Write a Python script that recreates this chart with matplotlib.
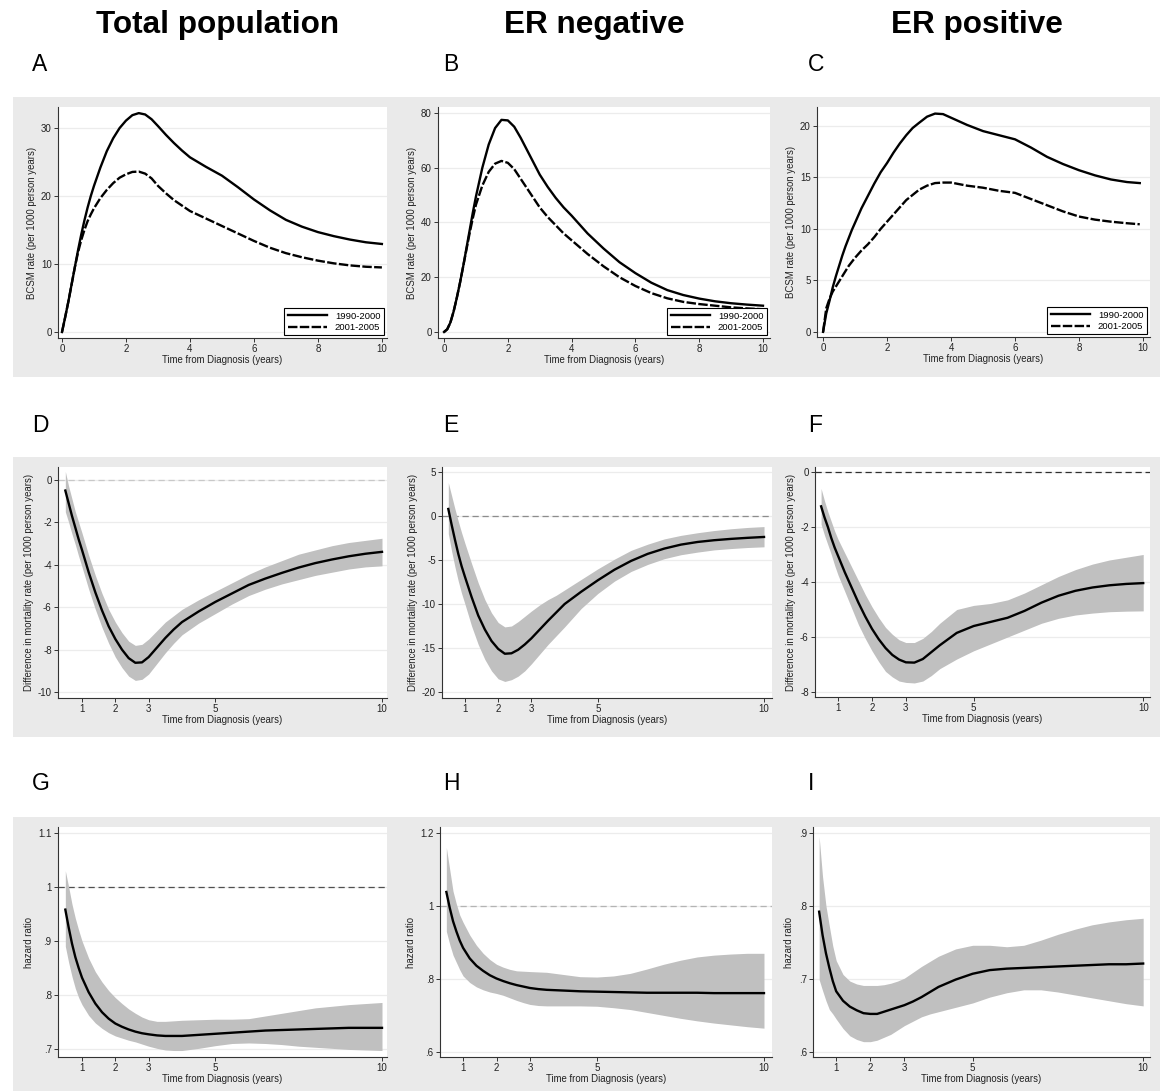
import matplotlib
matplotlib.use("Agg")
import matplotlib.pyplot as plt
from matplotlib.patches import Rectangle

plt.rcParams['font.family'] = ['Liberation Sans', 'DejaVu Sans']

# ---------------- data ----------------
columns = ["Total population", "ER negative", "ER positive"]
panel_letters = ["A", "B", "C", "D", "E", "F", "G", "H", "I"]
series_names = ["1990-2000", "2001-2005"]

t1 = [0, 0.1, 0.2, 0.3, 0.4, 0.5, 0.6, 0.7, 0.8, 0.9, 1.0, 1.2, 1.4, 1.6, 1.8, 2.0, 2.2, 2.4,
      2.6, 2.8, 3.0, 3.25, 3.5, 3.75, 4, 4.5, 5, 5.5, 6, 6.5, 7, 7.5, 8, 8.5, 9, 9.5, 10]
tC = [0, 0.1, 0.2, 0.3, 0.4, 0.5, 0.6, 0.7, 0.8, 0.9, 1.0, 1.2, 1.4, 1.6, 1.8, 2.0, 2.2, 2.4,
      2.6, 2.8, 3.0, 3.25, 3.5, 3.75, 4, 4.5, 5, 5.5, 6, 6.5, 7, 7.5, 8, 8.5, 9, 9.5, 9.9]

A_early = [0, 2.2, 4.5, 7, 9.5, 12, 14.3, 16.4, 18.3, 20.0, 21.5, 24.2, 26.6, 28.5, 30.0, 31.1,
           31.9, 32.2, 32.0, 31.3, 30.3, 29.0, 27.8, 26.7, 25.7, 24.3, 23.0, 21.3, 19.5, 17.9,
           16.5, 15.5, 14.7, 14.1, 13.6, 13.2, 12.95]
A_late = [0, 2.2, 4.5, 7, 9.5, 11.7, 13.5, 15.0, 16.3, 17.3, 18.2, 19.7, 20.9, 21.9, 22.7, 23.2,
          23.55, 23.6, 23.3, 22.6, 21.5, 20.4, 19.4, 18.6, 17.8, 16.7, 15.6, 14.5, 13.4, 12.4,
          11.6, 11.0, 10.5, 10.1, 9.8, 9.6, 9.5]

B_early = [0, 1.0, 3.5, 7.5, 12.5, 18, 24, 30.5, 37, 43.5, 49.5, 60, 68.5, 74.5, 77.5, 77.3,
           75.0, 71.0, 66.5, 62, 57.5, 53, 49, 45.5, 42.5, 36, 30.5, 25.5, 21.5, 18, 15.3,
           13.5, 12.2, 11.2, 10.5, 10.0, 9.6]
B_late = [0, 1.0, 3.5, 7.5, 12.5, 18, 24, 30, 36, 41.5, 46.5, 53.5, 58.5, 61.5, 62.5, 61.8,
          59.5, 56.0, 52.5, 49, 45.5, 42, 39, 36, 33.5, 28.5, 24, 20, 16.8, 14.2, 12.3, 11.0,
          10.2, 9.6, 9.0, 8.6, 8.3]

C_early = [0, 1.8, 3.0, 4.3, 5.4, 6.4, 7.4, 8.3, 9.1, 9.9, 10.6, 12.0, 13.2, 14.4, 15.5, 16.4,
           17.4, 18.3, 19.1, 19.8, 20.3, 20.9, 21.2, 21.15, 20.8, 20.1, 19.5, 19.1, 18.7, 17.9,
           17.0, 16.3, 15.7, 15.2, 14.8, 14.55, 14.45]
C_late = [0, 2.3, 3.2, 3.9, 4.4, 4.9, 5.4, 5.9, 6.4, 6.8, 7.2, 7.9, 8.5, 9.2, 10.0, 10.7,
          11.4, 12.1, 12.8, 13.3, 13.8, 14.2, 14.45, 14.5, 14.5, 14.2, 14.0, 13.7, 13.5, 12.9,
          12.3, 11.7, 11.2, 10.9, 10.7, 10.55, 10.45]

t2 = [0.5, 0.6, 0.7, 0.8, 0.9, 1.0, 1.2, 1.4, 1.6, 1.8, 2.0, 2.2, 2.4, 2.6, 2.8, 3.0, 3.25,
      3.5, 3.75, 4, 4.5, 5, 5.5, 6, 6.5, 7, 7.5, 8, 8.5, 9, 9.5, 10]

D_est = [-0.5, -1.1, -1.7, -2.25, -2.8, -3.3, -4.35, -5.3, -6.15, -6.9, -7.5, -8.0, -8.4,
         -8.62, -8.6, -8.35, -7.9, -7.45, -7.05, -6.7, -6.2, -5.75, -5.35, -4.95, -4.65,
         -4.38, -4.13, -3.92, -3.75, -3.6, -3.48, -3.39]
D_hi = [0.4, -0.3, -0.9, -1.5, -2.0, -2.5, -3.55, -4.5, -5.35, -6.1, -6.7, -7.2, -7.6, -7.8,
        -7.75, -7.5, -7.1, -6.7, -6.4, -6.1, -5.65, -5.25, -4.85, -4.45, -4.1, -3.8, -3.5,
        -3.3, -3.1, -2.95, -2.85, -2.75]
D_lo = [-1.5, -2.0, -2.55, -3.05, -3.6, -4.1, -5.15, -6.1, -6.95, -7.7, -8.35, -8.85, -9.25,
        -9.45, -9.4, -9.15, -8.65, -8.15, -7.7, -7.3, -6.75, -6.3, -5.85, -5.45, -5.15, -4.9,
        -4.7, -4.5, -4.35, -4.2, -4.1, -4.05]

E_est = [0.8, -1.0, -2.7, -4.3, -5.7, -6.9, -9.2, -11.3, -12.9, -14.2, -15.1, -15.65, -15.6,
         -15.2, -14.6, -13.9, -12.9, -11.9, -10.95, -10.0, -8.6, -7.3, -6.1, -5.1, -4.3, -3.7,
         -3.25, -2.95, -2.75, -2.6, -2.48, -2.38]
E_hi = [3.8, 2.3, 0.8, -0.6, -1.9, -3.1, -5.4, -7.6, -9.5, -11.0, -12.1, -12.6, -12.5, -12.0,
        -11.4, -10.8, -10.1, -9.5, -9.0, -8.4, -7.2, -6.0, -4.9, -3.9, -3.2, -2.6, -2.2, -1.9,
        -1.65, -1.45, -1.3, -1.2]
E_lo = [-2.0, -4.0, -5.8, -7.4, -8.8, -10.0, -12.5, -14.6, -16.3, -17.6, -18.5, -18.8, -18.6,
        -18.2, -17.6, -16.8, -15.7, -14.6, -13.6, -12.6, -10.5, -8.8, -7.4, -6.3, -5.5, -4.85,
        -4.4, -4.1, -3.85, -3.7, -3.58, -3.5]

F_est = [-1.25, -1.65, -2.0, -2.4, -2.75, -3.05, -3.65, -4.2, -4.75, -5.25, -5.7, -6.08, -6.4,
         -6.65, -6.82, -6.92, -6.93, -6.8, -6.55, -6.3, -5.85, -5.6, -5.45, -5.3, -5.05, -4.75,
         -4.5, -4.32, -4.2, -4.12, -4.07, -4.04]
F_hi = [-0.6, -1.05, -1.45, -1.8, -2.15, -2.45, -2.95, -3.45, -3.95, -4.45, -4.9, -5.3, -5.65,
        -5.9, -6.1, -6.2, -6.2, -6.05, -5.8, -5.5, -5.0, -4.85, -4.78, -4.65, -4.4, -4.1, -3.8,
        -3.55, -3.35, -3.2, -3.1, -3.0]
F_lo = [-1.9, -2.3, -2.65, -3.0, -3.4, -3.75, -4.35, -4.95, -5.55, -6.05, -6.5, -6.9, -7.25,
        -7.45, -7.6, -7.65, -7.67, -7.6, -7.4, -7.15, -6.8, -6.5, -6.25, -6.0, -5.75, -5.5,
        -5.32, -5.2, -5.13, -5.08, -5.06, -5.05]

G_est = [0.958, 0.925, 0.895, 0.87, 0.85, 0.832, 0.805, 0.784, 0.768, 0.756, 0.747, 0.741,
         0.736, 0.732, 0.729, 0.727, 0.725, 0.724, 0.724, 0.724, 0.726, 0.728, 0.73, 0.732,
         0.734, 0.735, 0.736, 0.737, 0.738, 0.739, 0.739, 0.739]
G_hi = [1.03, 1.0, 0.968, 0.942, 0.92, 0.9, 0.868, 0.843, 0.824, 0.808, 0.795, 0.784, 0.774,
        0.766, 0.759, 0.754, 0.751, 0.751, 0.752, 0.753, 0.754, 0.755, 0.755, 0.756, 0.761,
        0.766, 0.771, 0.776, 0.779, 0.782, 0.784, 0.786]
G_lo = [0.89, 0.86, 0.834, 0.812, 0.795, 0.782, 0.762, 0.748, 0.738, 0.73, 0.724, 0.72, 0.716,
        0.713, 0.709, 0.705, 0.701, 0.698, 0.697, 0.697, 0.701, 0.706, 0.71, 0.711, 0.71,
        0.708, 0.705, 0.703, 0.701, 0.699, 0.698, 0.697]

H_est = [1.038, 0.995, 0.958, 0.93, 0.905, 0.885, 0.856, 0.836, 0.822, 0.81, 0.801, 0.794,
         0.788, 0.783, 0.779, 0.775, 0.772, 0.77, 0.769, 0.768, 0.766, 0.765, 0.764, 0.763,
         0.762, 0.762, 0.762, 0.762, 0.761, 0.761, 0.761, 0.761]
H_hi = [1.16, 1.1, 1.04, 1.005, 0.975, 0.955, 0.92, 0.892, 0.87, 0.853, 0.84, 0.832, 0.826,
        0.822, 0.821, 0.82, 0.819, 0.818, 0.815, 0.812, 0.806, 0.805, 0.808, 0.815, 0.827,
        0.84, 0.851, 0.86, 0.865, 0.868, 0.87, 0.87]
H_lo = [0.93, 0.895, 0.865, 0.845, 0.825, 0.808, 0.79, 0.778, 0.77, 0.764, 0.76, 0.755, 0.748,
        0.741, 0.735, 0.73, 0.727, 0.726, 0.726, 0.726, 0.726, 0.725, 0.721, 0.716, 0.708,
        0.7, 0.692, 0.685, 0.679, 0.674, 0.669, 0.665]

I_est = [0.792, 0.76, 0.735, 0.715, 0.697, 0.683, 0.67, 0.662, 0.657, 0.653, 0.652, 0.652,
         0.655, 0.658, 0.661, 0.664, 0.669, 0.675, 0.682, 0.689, 0.699, 0.707, 0.712, 0.714,
         0.715, 0.716, 0.717, 0.718, 0.719, 0.72, 0.72, 0.721]
I_hi = [0.895, 0.84, 0.8, 0.772, 0.745, 0.725, 0.706, 0.697, 0.693, 0.691, 0.691, 0.691, 0.692,
        0.694, 0.697, 0.701, 0.709, 0.717, 0.724, 0.731, 0.741, 0.746, 0.746, 0.744, 0.746,
        0.753, 0.761, 0.768, 0.774, 0.778, 0.781, 0.783]
I_lo = [0.699, 0.684, 0.67, 0.658, 0.652, 0.645, 0.632, 0.622, 0.617, 0.614, 0.614, 0.616,
        0.62, 0.624, 0.63, 0.636, 0.642, 0.648, 0.652, 0.655, 0.661, 0.667, 0.675, 0.681,
        0.685, 0.685, 0.682, 0.678, 0.674, 0.67, 0.666, 0.663]

row1_xticks = [0, 2, 4, 6, 8, 10]
row23_xticks = [1, 2, 3, 5, 10]
A_yticks = [0, 10, 20, 30]
B_yticks = [0, 20, 40, 60, 80]
C_yticks = [0, 5, 10, 15, 20]
D_yticks = [0, -2, -4, -6, -8, -10]
E_yticks = [5, 0, -5, -10, -15, -20]
F_yticks = [0, -2, -4, -6, -8]
G_yticks = [0.7, 0.8, 0.9, 1.0, 1.1]
G_ylabels = [".7", ".8", ".9", "1", "1.1"]
H_yticks = [0.6, 0.8, 1.0, 1.2]
H_ylabels = [".6", ".8", "1", "1.2"]
I_yticks = [0.6, 0.7, 0.8, 0.9]
I_ylabels = [".6", ".7", ".8", ".9"]

xlabel = "Time from Diagnosis (years)"
ylab1 = "BCSM rate (per 1000 person years)"
ylab2 = "Difference in mortality rate (per 1000 person years)"
ylab3 = "hazard ratio"

# ---------------- layout ----------------
W, H = 1160, 1091
fig = plt.figure(figsize=(W / 100, H / 100), dpi=100)
fig.patch.set_facecolor("white")

BG = "#eaeaea"
for (top, bot) in [(97, 377), (457, 737), (817, 1091)]:
    fig.add_artist(Rectangle((13 / W, 1 - bot / H), (W - 13) / W, (bot - top) / H,
                             transform=fig.transFigure, facecolor=BG, edgecolor="none",
                             zorder=0))


def add_ax(l, t, r, b):
    ax = fig.add_axes([l / W, 1 - b / H, (r - l) / W, (b - t) / H])
    ax.set_facecolor("white")
    for s in ["top", "right"]:
        ax.spines[s].set_visible(False)
    for s in ["left", "bottom"]:
        ax.spines[s].set_color("#333333")
        ax.spines[s].set_linewidth(0.8)
    ax.tick_params(direction="out", length=3, width=0.7, color="#333333",
                   labelsize=7, pad=1.5, labelcolor="#222222")
    ax.set_axisbelow(True)
    ax.yaxis.grid(True, color="#ececec", lw=0.9)
    ax.xaxis.grid(False)
    return ax


def finish(ax, xl, yl, xt, yt, ytl, ylabel):
    ax.set_xlim(*xl)
    ax.set_ylim(*yl)
    ax.set_xticks(xt)
    ax.set_xticklabels([str(v) for v in xt])
    ax.set_yticks(yt)
    ax.set_yticklabels(ytl)
    ax.set_xlabel(xlabel, fontsize=6.9, labelpad=0.5, color="#222222")
    ax.set_ylabel(ylabel, fontsize=6.9, labelpad=3, color="#222222")


LW = 1.7
DASH = (4.0, 1.0)


def rate_panel(ax, tx, early, late):
    ax.plot(tx, early, color="black", lw=LW, label=series_names[0], solid_joinstyle="round")
    ax.plot(tx, late, color="black", lw=LW, dashes=DASH, label=series_names[1])
    leg = ax.legend(loc="lower right", bbox_to_anchor=(0.99, 0.012), fontsize=6.8,
                    frameon=True, fancybox=False, edgecolor="black", framealpha=1,
                    handlelength=4.2, borderpad=0.35, labelspacing=0.25,
                    handletextpad=0.8, borderaxespad=0)
    leg.get_frame().set_linewidth(0.8)


def band_panel(ax, est, lo, hi, ref, refcolor):
    if ref is not None:
        ax.axhline(ref, color=refcolor, lw=0.9, dashes=(5, 3), zorder=1)
    ax.fill_between(t2, lo, hi, color="#c0c0c0", lw=0, zorder=2)
    ax.plot(t2, est, color="black", lw=LW, zorder=3, solid_joinstyle="round")


# Row 1
axA = add_ax(58, 107, 387, 338)
rate_panel(axA, t1, A_early, A_late)
finish(axA, (-0.125, 10.16), (-0.88, 33.1), row1_xticks, A_yticks,
       [str(v) for v in A_yticks], ylab1)

axB = add_ax(438, 107, 770, 338)
rate_panel(axB, t1, B_early, B_late)
finish(axB, (-0.19, 10.22), (-2.2, 82.2), row1_xticks, B_yticks,
       [str(v) for v in B_yticks], ylab1)

axC = add_ax(817, 107, 1150, 337)
rate_panel(axC, tC, C_early, C_late)
finish(axC, (-0.19, 10.22), (-0.5, 21.84), row1_xticks, C_yticks,
       [str(v) for v in C_yticks], ylab1)

# Row 2
axD = add_ax(58, 467, 387, 698)
band_panel(axD, D_est, D_lo, D_hi, 0, "#c8c8c8")
finish(axD, (0.28, 10.15), (-10.28, 0.61), row23_xticks, D_yticks,
       [str(v) for v in D_yticks], ylab2)

axE = add_ax(442, 467, 772, 698)
band_panel(axE, E_est, E_lo, E_hi, 0, "#8c8c8c")
finish(axE, (0.31, 10.24), (-20.68, 5.57), row23_xticks, E_yticks,
       [str(v) for v in E_yticks], ylab2)

axF = add_ax(815, 467, 1150, 697)
band_panel(axF, F_est, F_lo, F_hi, 0, "#303030")
finish(axF, (0.32, 10.2), (-8.18, 0.18), row23_xticks, F_yticks,
       [str(v) for v in F_yticks], ylab2)

# Row 3
axG = add_ax(58, 827, 387, 1057)
band_panel(axG, G_est, G_lo, G_hi, 1.0, "#505050")
finish(axG, (0.28, 10.15), (0.685, 1.111), row23_xticks, G_yticks, G_ylabels, ylab3)

axH = add_ax(440, 827, 772, 1057)
band_panel(axH, H_est, H_lo, H_hi, 1.0, "#b4b4b4")
finish(axH, (0.31, 10.24), (0.586, 1.216), row23_xticks, H_yticks, H_ylabels, ylab3)

axI = add_ax(813, 827, 1150, 1057)
band_panel(axI, I_est, I_lo, I_hi, None, None)
finish(axI, (0.32, 10.2), (0.593, 0.908), row23_xticks, I_yticks, I_ylabels, ylab3)

# Headers and letters
header_x = [218, 594, 977]
for cx, name in zip(header_x, columns):
    fig.text(cx / W, 1 - 33 / H, name, ha="center", va="baseline",
             fontsize=22.7, fontweight="bold")

letter_x = [32, 443, 808]
letter_y = [71, 432, 790]
k = 0
for ly in letter_y:
    for lx in letter_x:
        fig.text(lx / W, 1 - ly / H, panel_letters[k], ha="left", va="baseline",
                 fontsize=16.5)
        k += 1

fig.savefig("out.png", dpi=100, facecolor="white")
